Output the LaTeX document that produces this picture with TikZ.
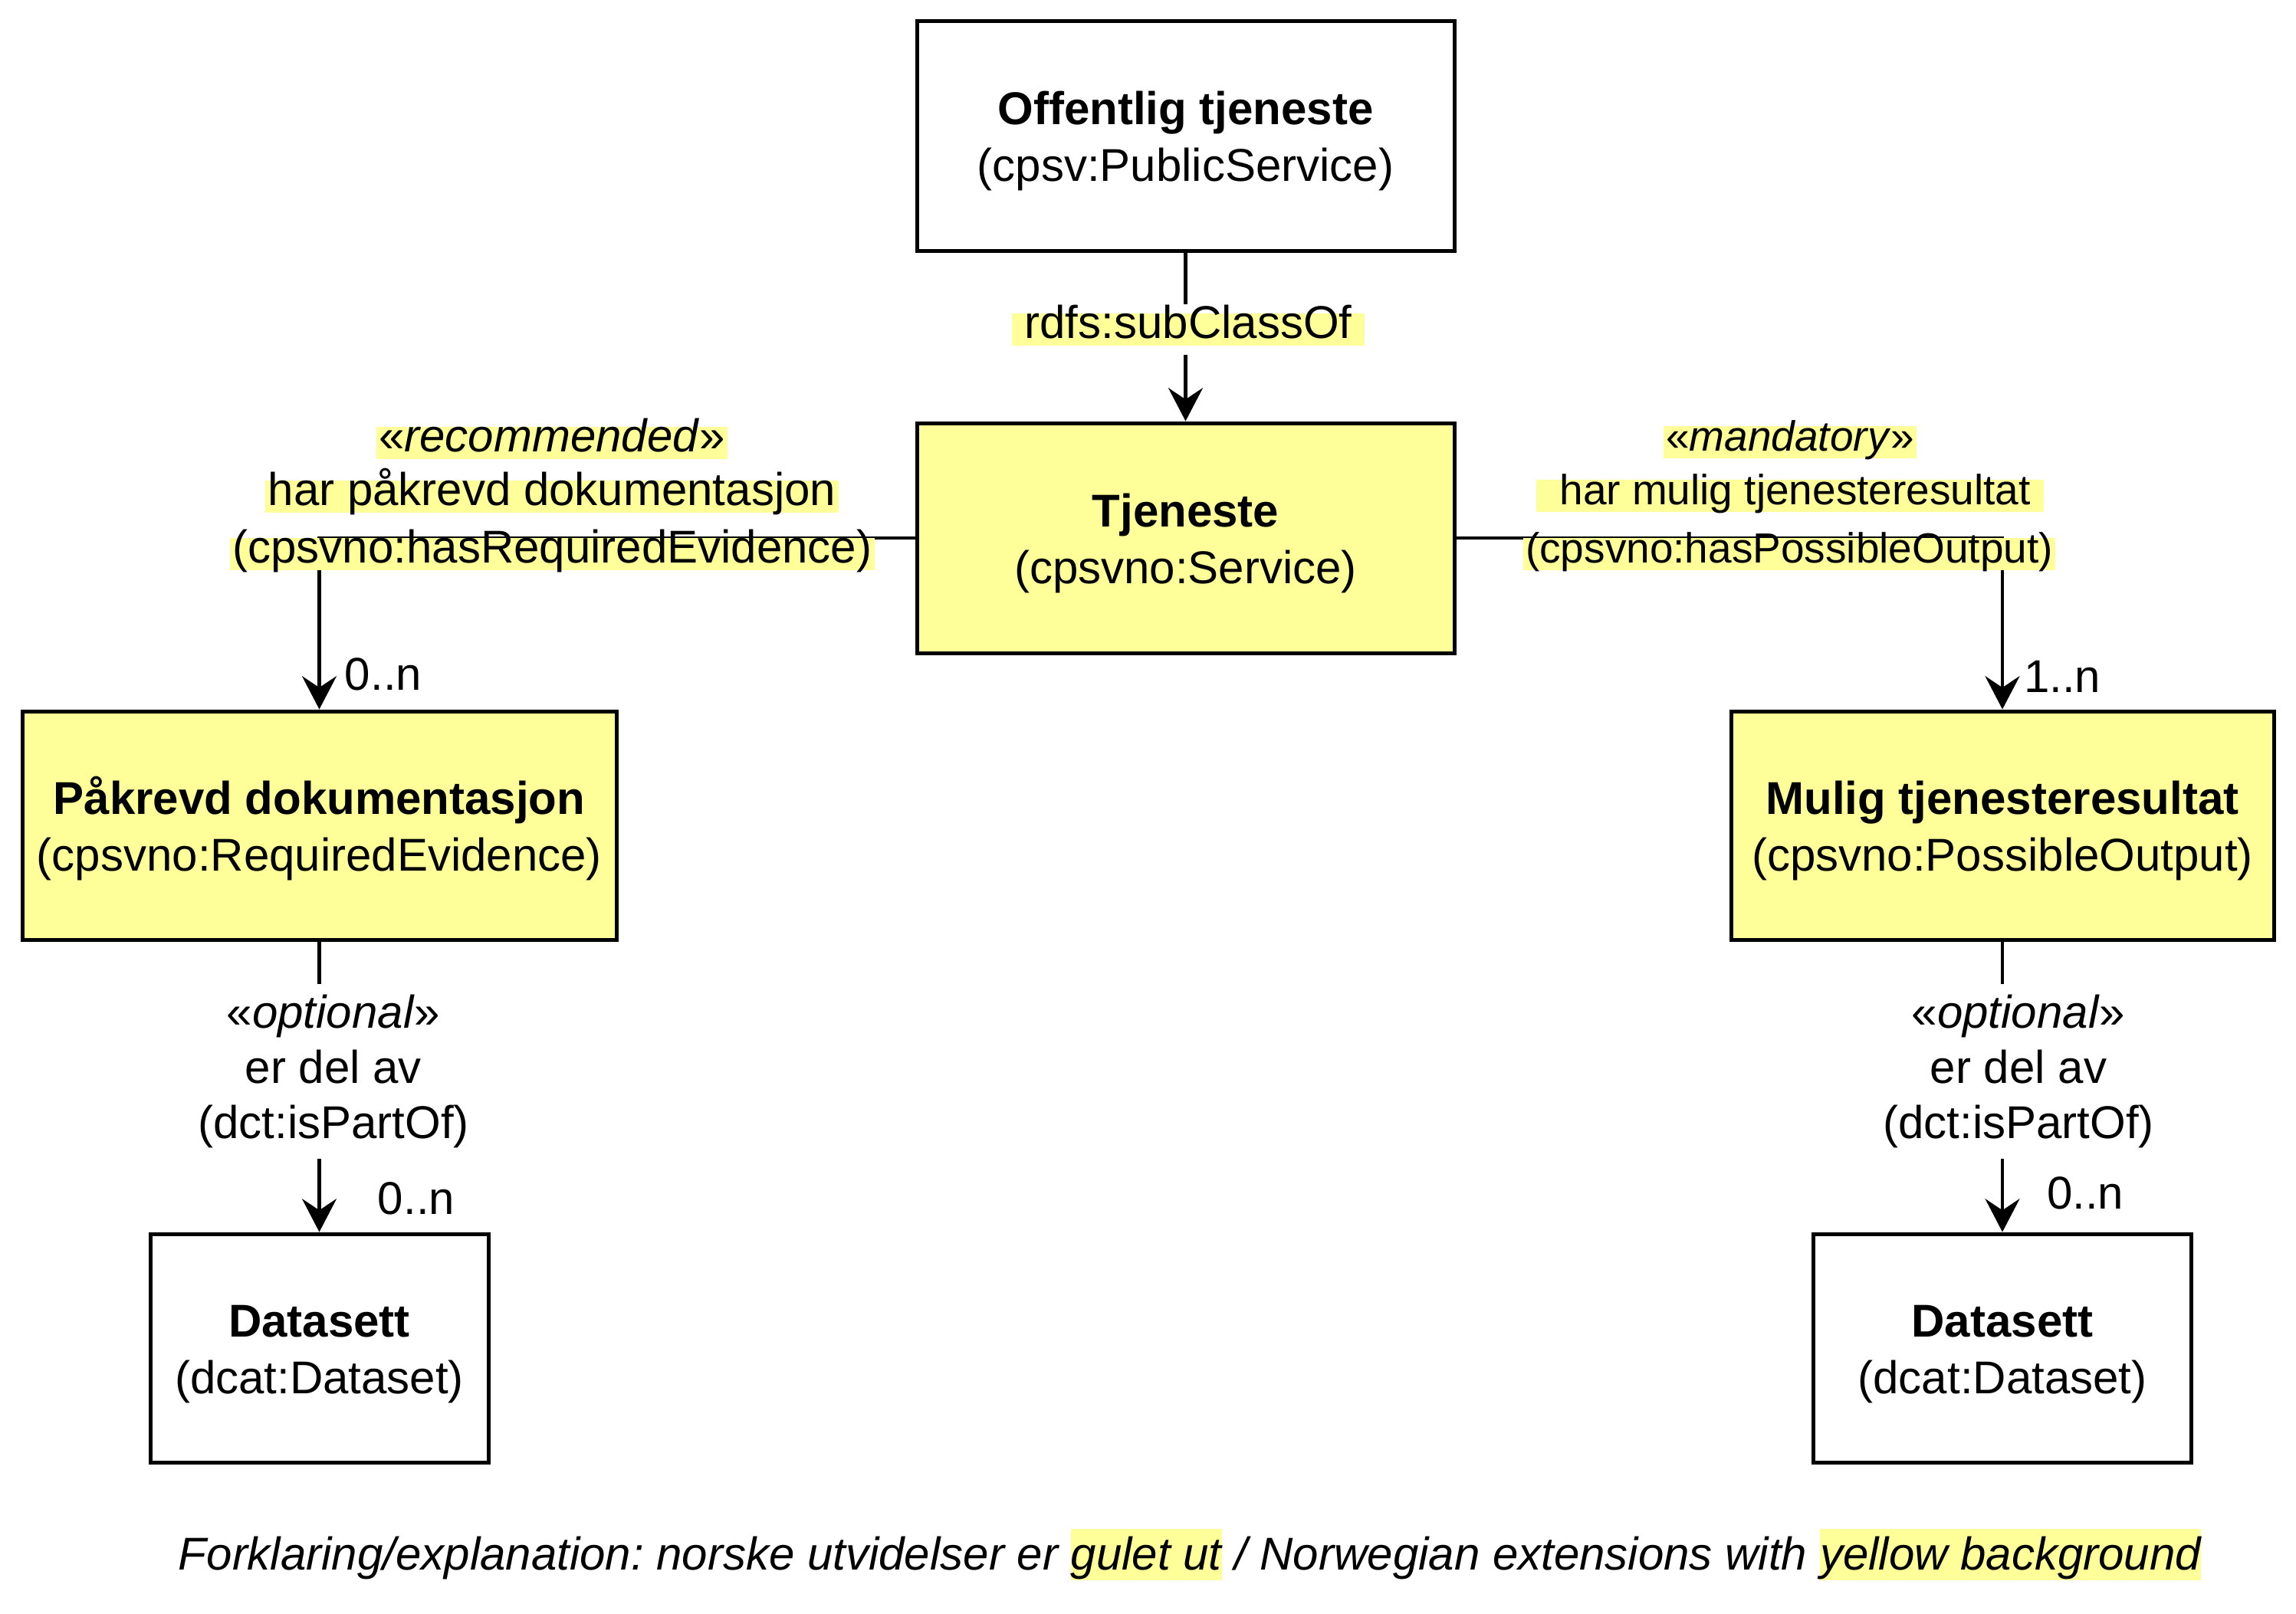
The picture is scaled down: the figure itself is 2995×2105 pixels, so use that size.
\documentclass[tikz,border=0pt]{standalone}
\usepackage{fontspec}
\setmainfont{Liberation Sans}
\usetikzlibrary{arrows.meta}
\definecolor{yel}{HTML}{FFFF99}
\newcommand\hlbg[1]{\begingroup\setlength{\fboxsep}{0pt}\colorbox{yel}{\rule[-0.212em]{0pt}{1.117em}#1}\endgroup}
\newcommand\topstrut{\rule{0pt}{17.1pt}}
\begin{document}
\frenchspacing
\begin{tikzpicture}[x=0.3pt,y=-0.3pt,
  every node/.style={font=\fontsize{18pt}{22.2pt}\selectfont},
  cls/.style={draw=black, line width=1.5pt, align=center, inner sep=0pt},
  ext/.style={cls, fill=yel},
  conn/.style={line width=1.25pt},
  arr/.style={conn, -{Stealth[length=13pt,width=13.5pt,inset=4.5pt]}},
  yl/.style={fill=yel, inner xsep=1pt, inner ysep=0.6pt, text height=0.905em, text depth=0.212em},
  ylsmall/.style={yl, font=\fontsize{16.5pt}{20pt}\selectfont},
  card/.style={inner sep=1pt},
  optlbl/.style={align=center, inner xsep=0pt, inner ysep=4pt, font=\fontsize{18pt}{21.6pt}\selectfont}]
\useasboundingbox (0,0) rectangle (2995,2105);

% classes
\node[cls, minimum width=210.3pt, minimum height=90pt] (off) at (1546.5,177) {\topstrut\textbf{Offentlig tjeneste}\\(cpsv:PublicService)};
\node[ext, minimum width=210.3pt, minimum height=90pt] (tj) at (1546.5,702) {\topstrut\textbf{Tjeneste}\\(cpsvno:Service)};
\node[ext, minimum width=232.5pt, minimum height=89.4pt] (pak) at (416.5,1077) {\topstrut\textbf{Påkrevd dokumentasjon}\\(cpsvno:RequiredEvidence)};
\node[ext, minimum width=212.4pt, minimum height=89.4pt] (mul) at (2612,1077) {\topstrut\textbf{Mulig tjenesteresultat}\\(cpsvno:PossibleOutput)};
\node[cls, minimum width=132.3pt, minimum height=89.4pt] (ds1) at (416.5,1759) {\topstrut\textbf{Datasett}\\(dcat:Dataset)};
\node[cls, minimum width=147.9pt, minimum height=89.4pt] (ds2) at (2612,1759) {\topstrut\textbf{Datasett}\\(dcat:Dataset)};

% subClassOf
\node[yl, inner xsep=5pt, outer sep=3.6pt] (sub) at (1550,430) {rdfs:subClassOf};
\draw[conn] (off.south) -- (off.south |- sub.north);
\draw[arr] (off.south |- sub.south) -- (tj.north);

% hasRequiredEvidence
\draw[arr] (tj.west) -| (pak.north);
\node[yl] (rq1) at (720,578) {«\textit{recommended}»};
\node[yl] (rq2) at (720,648) {har påkrevd dokumentasjon};
\node[yl] (rq3) at (720.5,723) {(cpsvno:hasRequiredEvidence)};
\node[card] (c1) at (500,880) {0..n};

% hasPossibleOutput
\draw[arr] (tj.east) -| (mul.north);
\node[ylsmall] (po1) at (2335,577) {«\textit{mandatory}»};
\node[ylsmall] (po2) at (2335,647) {\hspace*{8pt}har mulig tjenesteresultat\hspace*{4pt}};
\node[ylsmall] (po3) at (2334,723) {(cpsvno:hasPossibleOutput)};
\node[card, fill=white] (c2) at (2690,883) {1..n};

% isPartOf left
\node[optlbl] (op1) at (435,1398) {«\textit{optional}»\\er del av\\(dct:isPartOf)};
\draw[conn] (pak.south) -- (pak.south |- op1.north);
\draw[arr] (pak.south |- op1.south) -- (ds1.north);
\node[card] (c3) at (543,1564) {0..n};

% isPartOf right
\node[optlbl] (op2) at (2633,1398) {«\textit{optional}»\\er del av\\(dct:isPartOf)};
\draw[conn] (mul.south) -- (mul.south |- op2.north);
\draw[arr] (mul.south |- op2.south) -- (ds2.north);
\node[card] (c4) at (2720,1557) {0..n};

% legend
\node[inner sep=0pt] (legend) at (1552,2028) {\itshape Forklaring/explanation: norske utvidelser er \hlbg{gulet ut} / Norwegian extensions with \hlbg{yellow background}};
\end{tikzpicture}
\end{document}
